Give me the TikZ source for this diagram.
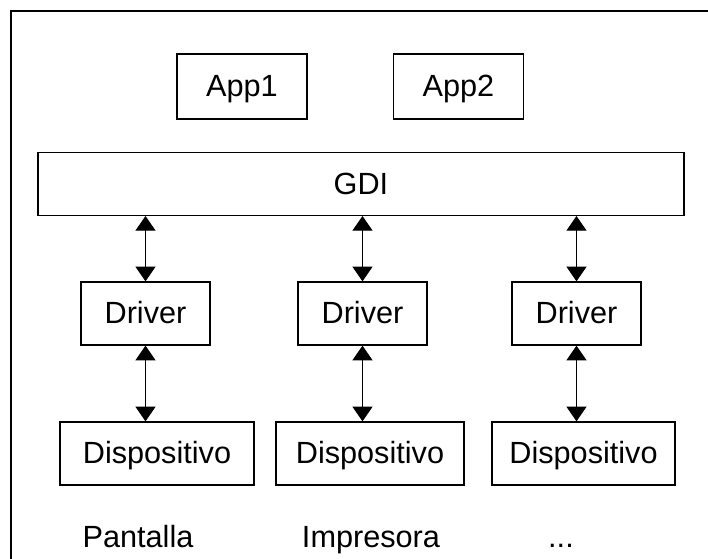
\documentclass[tikz,border=0pt]{standalone}
\usepackage{fontspec}
\setmainfont{Liberation Sans}
\usetikzlibrary{arrows.meta}
\begin{document}
\begin{tikzpicture}[x=0.75pt,y=-0.75pt,
  box/.style={draw=black,line width=1pt,fill=white,inner sep=0pt,
    text height=16.5pt,text depth=1.5pt,font=\fontsize{23}{27}\selectfont},
  caption/.style={inner sep=0pt,anchor=base,font=\fontsize{23}{27}\selectfont},
  link/.style={line width=0.9pt,{Triangle[width=15pt,length=11pt]}-{Triangle[width=15pt,length=11pt]}}]
\useasboundingbox (0,0) rectangle (708,558);
\fill[white] (0,0) rectangle (708,558);
% outer frame (runs off the page on the right and bottom)
\begin{scope}
\clip (0,0) rectangle (708,558);
\draw[line width=1.5pt] (11,580) -- (11,11) -- (730,11);
\end{scope}
% applications
\node[box,minimum width=97.5pt,minimum height=48.75pt] (app1) at (242,86.5) {App1};
\node[box,minimum width=97.5pt,minimum height=48.75pt] (app2) at (458.5,86.5) {App2};
% GDI layer
\node[box,minimum width=484.5pt,minimum height=47pt] (gdi) at (361,184) {GDI};
% drivers
\node[box,minimum width=96.75pt,minimum height=47.25pt] (d1) at (145.5,313.5) {Driver};
\node[box,minimum width=96.75pt,minimum height=47.25pt] (d2) at (362.5,313.5) {Driver};
\node[box,minimum width=96.75pt,minimum height=47.25pt] (d3) at (576.5,313.5) {Driver};
% devices
\node[box,minimum width=145.5pt,minimum height=47.25pt] (p1) at (157,453.5) {Dispositivo};
\node[box,minimum width=141pt,minimum height=47.25pt] (p2) at (370,453.5) {Dispositivo};
\node[box,minimum width=137.25pt,minimum height=47.25pt] (p3) at (583.5,453.5) {Dispositivo};
% device names
\node[caption] (c1) at (138,547) {Pantalla};
\node[caption] (c2) at (371,547) {Impresora};
\node[caption] (c3) at (561,547) {...};
% GDI <-> driver links
\draw[link] (gdi.south -| d1.north) -- (d1.north);
\draw[link] (gdi.south -| d2.north) -- (d2.north);
\draw[link] (gdi.south -| d3.north) -- (d3.north);
% driver <-> device links
\draw[link] (d1.south) -- (d1.south |- p1.north);
\draw[link] (d2.south) -- (d2.south |- p2.north);
\draw[link] (d3.south) -- (d3.south |- p3.north);
\end{tikzpicture}
\end{document}
